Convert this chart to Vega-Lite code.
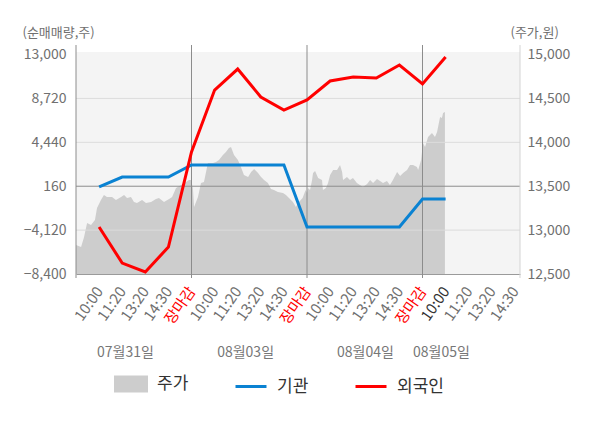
{
  "$schema": "https://vega.github.io/schema/vega-lite/v6.json",
  "width": 444,
  "height": 222,
  "autosize": {"type": "none"},
  "padding": {"left": 76, "top": 52, "right": 80, "bottom": 154},
  "config": {
    "font": "Noto Sans CJK KR",
    "view": {"fill": "#f4f4f4", "stroke": null},
    "axis": {
      "labelColor": "#707070",
      "titleColor": "#707070",
      "labelFontSize": 14,
      "titleFontSize": 13,
      "titleFontWeight": "normal",
      "grid": false,
      "ticks": false,
      "domain": false
    }
  },
  "datasets": {
    "price": [
      {"slot": 0, "price": 12830}, {"slot": 0.22, "price": 12808}, {"slot": 0.35, "price": 12921},
      {"slot": 0.48, "price": 13081}, {"slot": 0.65, "price": 13058}, {"slot": 0.82, "price": 13115},
      {"slot": 0.91, "price": 13252}, {"slot": 1.08, "price": 13343}, {"slot": 1.21, "price": 13400},
      {"slot": 1.34, "price": 13377}, {"slot": 1.56, "price": 13377}, {"slot": 1.73, "price": 13343},
      {"slot": 1.95, "price": 13377}, {"slot": 2.08, "price": 13400}, {"slot": 2.21, "price": 13366},
      {"slot": 2.38, "price": 13377}, {"slot": 2.51, "price": 13320}, {"slot": 2.64, "price": 13309},
      {"slot": 2.86, "price": 13343}, {"slot": 3.03, "price": 13309}, {"slot": 3.25, "price": 13320},
      {"slot": 3.46, "price": 13354}, {"slot": 3.59, "price": 13366}, {"slot": 3.81, "price": 13320},
      {"slot": 4.03, "price": 13354}, {"slot": 4.16, "price": 13377}, {"slot": 4.33, "price": 13480},
      {"slot": 4.55, "price": 13514}, {"slot": 4.76, "price": 13548}, {"slot": 4.89, "price": 13571},
      {"slot": 4.98, "price": 13571}, {"slot": 5.06, "price": 13480}, {"slot": 5.11, "price": 13263},
      {"slot": 5.28, "price": 13377}, {"slot": 5.41, "price": 13536}, {"slot": 5.54, "price": 13548},
      {"slot": 5.71, "price": 13764}, {"slot": 5.93, "price": 13764}, {"slot": 6.06, "price": 13776},
      {"slot": 6.19, "price": 13798}, {"slot": 6.36, "price": 13855}, {"slot": 6.49, "price": 13890},
      {"slot": 6.62, "price": 13935}, {"slot": 6.71, "price": 13947}, {"slot": 6.84, "price": 13855},
      {"slot": 7.01, "price": 13798}, {"slot": 7.14, "price": 13719}, {"slot": 7.27, "price": 13628},
      {"slot": 7.45, "price": 13605}, {"slot": 7.58, "price": 13662}, {"slot": 7.71, "price": 13696},
      {"slot": 7.88, "price": 13650}, {"slot": 8.01, "price": 13605}, {"slot": 8.14, "price": 13571},
      {"slot": 8.31, "price": 13536}, {"slot": 8.44, "price": 13468}, {"slot": 8.57, "price": 13457},
      {"slot": 8.74, "price": 13434}, {"slot": 8.96, "price": 13423}, {"slot": 9.09, "price": 13400},
      {"slot": 9.22, "price": 13366}, {"slot": 9.39, "price": 13320}, {"slot": 9.52, "price": 13263},
      {"slot": 9.65, "price": 13320}, {"slot": 9.81, "price": 13366}, {"slot": 9.94, "price": 13457},
      {"slot": 10.0, "price": 13423}, {"slot": 10.04, "price": 13480}, {"slot": 10.13, "price": 13457},
      {"slot": 10.22, "price": 13571}, {"slot": 10.26, "price": 13650}, {"slot": 10.35, "price": 13673},
      {"slot": 10.48, "price": 13593}, {"slot": 10.65, "price": 13571}, {"slot": 10.69, "price": 13457},
      {"slot": 10.82, "price": 13480}, {"slot": 10.91, "price": 13536}, {"slot": 11.0, "price": 13628},
      {"slot": 11.13, "price": 13685}, {"slot": 11.3, "price": 13685}, {"slot": 11.43, "price": 13742},
      {"slot": 11.52, "price": 13662}, {"slot": 11.56, "price": 13571}, {"slot": 11.73, "price": 13605},
      {"slot": 11.86, "price": 13571}, {"slot": 11.99, "price": 13593}, {"slot": 12.16, "price": 13536},
      {"slot": 12.29, "price": 13514}, {"slot": 12.42, "price": 13491}, {"slot": 12.6, "price": 13525},
      {"slot": 12.73, "price": 13571}, {"slot": 12.86, "price": 13536}, {"slot": 13.03, "price": 13582},
      {"slot": 13.16, "price": 13559}, {"slot": 13.29, "price": 13536}, {"slot": 13.46, "price": 13559},
      {"slot": 13.59, "price": 13514}, {"slot": 13.72, "price": 13571}, {"slot": 13.9, "price": 13662},
      {"slot": 14.03, "price": 13616}, {"slot": 14.16, "price": 13650}, {"slot": 14.33, "price": 13685},
      {"slot": 14.46, "price": 13742}, {"slot": 14.59, "price": 13742}, {"slot": 14.76, "price": 13719},
      {"slot": 14.81, "price": 13685}, {"slot": 14.94, "price": 13798}, {"slot": 15.02, "price": 13992},
      {"slot": 15.11, "price": 13947}, {"slot": 15.24, "price": 14060}, {"slot": 15.41, "price": 14106},
      {"slot": 15.54, "price": 14060}, {"slot": 15.63, "price": 14117}, {"slot": 15.76, "price": 14288},
      {"slot": 15.84, "price": 14277}, {"slot": 15.89, "price": 14334}, {"slot": 15.97, "price": 14345}
    ],
    "flow": [
      {"slot": 1, "series": "기관", "value": 100},
      {"slot": 2, "series": "기관", "value": 1060},
      {"slot": 3, "series": "기관", "value": 1060},
      {"slot": 4, "series": "기관", "value": 1060},
      {"slot": 5, "series": "기관", "value": 2230},
      {"slot": 6, "series": "기관", "value": 2230},
      {"slot": 7, "series": "기관", "value": 2230},
      {"slot": 8, "series": "기관", "value": 2230},
      {"slot": 9, "series": "기관", "value": 2230},
      {"slot": 10, "series": "기관", "value": -3820},
      {"slot": 11, "series": "기관", "value": -3820},
      {"slot": 12, "series": "기관", "value": -3820},
      {"slot": 13, "series": "기관", "value": -3820},
      {"slot": 14, "series": "기관", "value": -3820},
      {"slot": 15, "series": "기관", "value": -1090},
      {"slot": 16, "series": "기관", "value": -1090},
      {"slot": 1, "series": "외국인", "value": -3820},
      {"slot": 2, "series": "외국인", "value": -7330},
      {"slot": 3, "series": "외국인", "value": -8200},
      {"slot": 4, "series": "외국인", "value": -5770},
      {"slot": 5, "series": "외국인", "value": 3500},
      {"slot": 6, "series": "외국인", "value": 9540},
      {"slot": 7, "series": "외국인", "value": 11590},
      {"slot": 8, "series": "외국인", "value": 8860},
      {"slot": 9, "series": "외국인", "value": 7590},
      {"slot": 10, "series": "외국인", "value": 8570},
      {"slot": 11, "series": "외국인", "value": 10420},
      {"slot": 12, "series": "외국인", "value": 10810},
      {"slot": 13, "series": "외국인", "value": 10710},
      {"slot": 14, "series": "외국인", "value": 11980},
      {"slot": 15, "series": "외국인", "value": 10130},
      {"slot": 16, "series": "외국인", "value": 12760}
    ],
    "levels": [{"level": -4120}, {"level": 160}, {"level": 4440}, {"level": 8720}],
    "days": [{"slot": 0}, {"slot": 5}, {"slot": 10}, {"slot": 15}, {"slot": 19.22}]
  },
  "layer": [
    {
      "data": {"name": "price"},
      "mark": {"type": "area", "color": "#cdcdcd", "interpolate": "linear"},
      "encoding": {
        "x": {
          "field": "slot",
          "type": "quantitative",
          "scale": {"domain": [0, 19.22], "nice": false},
          "axis": {
            "orient": "bottom",
            "values": [2.12, 7.32, 12.51, 15.8],
            "labelExpr": "datum.value < 5 ? '07월31일' : datum.value < 10 ? '08월03일' : datum.value < 15 ? '08월04일' : '08월05일'",
            "labelAngle": 0,
            "offset": 69,
            "labelPadding": 2,
            "labelColor": "#777777",
            "labelFlush": false,
            "labelOverlap": false,
            "title": null
          }
        },
        "y": {
          "field": "price",
          "type": "quantitative",
          "scale": {"domain": [12500, 15029], "nice": false},
          "axis": {
            "orient": "right",
            "values": [12500, 13000, 13500, 14000, 14500, 15000],
            "format": ",.0f",
            "labelPadding": 7,
            "title": "(주가,원)",
            "titleAngle": 0,
            "titleAlign": "left",
            "titleBaseline": "middle",
            "titleX": -10,
            "titleY": -20
          }
        },
        "y2": {"datum": 12500}
      }
    },
    {
      "data": {"name": "levels"},
      "mark": {"type": "rule", "strokeWidth": 1},
      "encoding": {
        "y": {
          "field": "level",
          "type": "quantitative",
          "scale": {"domain": [-8400, 13250], "nice": false},
          "axis": null
        },
        "color": {"condition": {"test": "datum.level === 160", "value": "#8c8c8c"}, "value": "#dcdcdc"}
      }
    },
    {
      "data": {"name": "days"},
      "mark": {"type": "rule", "strokeWidth": 1},
      "encoding": {
        "x": {
          "field": "slot",
          "type": "quantitative",
          "scale": {"domain": [0, 19.22], "nice": false},
          "axis": null
        },
        "y": {
          "datum": -8790,
          "type": "quantitative",
          "scale": {"domain": [-8400, 13250], "nice": false},
          "axis": null
        },
        "y2": {"datum": 13930},
        "color": {"condition": {"test": "datum.slot > 19", "value": "#d4d4d4"}, "value": "#8c8c8c"}
      }
    },
    {
      "data": {"name": "flow"},
      "mark": {"type": "line", "interpolate": "linear", "strokeWidth": 3},
      "encoding": {
        "x": {
          "field": "slot",
          "type": "quantitative",
          "scale": {"domain": [0, 19.22], "nice": false},
          "axis": {
            "orient": "bottom",
            "values": [1, 2, 3, 4, 5, 6, 7, 8, 9, 10, 11, 12, 13, 14, 15, 16, 17, 18, 19],
            "labelExpr": "['장마감', '10:00', '11:20', '13:20', '14:30'][datum.value % 5]",
            "labelAngle": -55,
            "labelFontSize": 15,
            "labelPadding": 14,
            "labelColor": {
              "condition": [
                {"test": "datum.value % 5 === 0", "value": "#ff0000"},
                {"test": "datum.value === 16", "value": "#333333"}
              ],
              "value": "#707070"
            },
            "labelFlush": false,
            "labelOverlap": false,
            "domain": true,
            "domainColor": "#9a9a9a",
            "title": null
          }
        },
        "y": {
          "field": "value",
          "type": "quantitative",
          "scale": {"domain": [-8400, 13250], "nice": false},
          "axis": {
            "orient": "left",
            "values": [-8400, -4120, 160, 4440, 8720, 13000],
            "format": ",.0f",
            "labelPadding": 10,
            "title": "(순매매량,주)",
            "titleAngle": 0,
            "titleAlign": "left",
            "titleBaseline": "middle",
            "titleX": -54,
            "titleY": -20
          }
        },
        "color": {
          "field": "series",
          "type": "nominal",
          "scale": {"domain": ["주가", "기관", "외국인"], "range": ["#cdcdcd", "#0a82d2", "#ff0000"]},
          "legend": {
            "orient": "none",
            "legendX": 38,
            "legendY": 315,
            "direction": "horizontal",
            "title": null,
            "labelFontSize": 17,
            "labelColor": "#333333",
            "labelOffset": 9,
            "symbolType": "stroke",
            "symbolSize": 961,
            "symbolStrokeWidth": 3,
            "columnPadding": 40,
            "encode": {
              "symbols": {
                "update": {
                  "shape": {"signal": "datum.value === '주가' ? 'M-1,-0.45H1V0.45H-1Z' : 'stroke'"},
                  "fill": {"signal": "datum.value === '주가' ? '#cdcdcd' : 'transparent'"},
                  "stroke": {"signal": "datum.value === '주가' ? 'transparent' : datum.value === '기관' ? '#0a82d2' : '#ff0000'"},
                  "strokeWidth": {"value": 3},
                  "opacity": {"value": 1}
                }
              }
            }
          }
        }
      }
    }
  ],
  "resolve": {
    "scale": {"y": "independent"},
    "axis": {"x": "independent", "y": "independent"}
  }
}
